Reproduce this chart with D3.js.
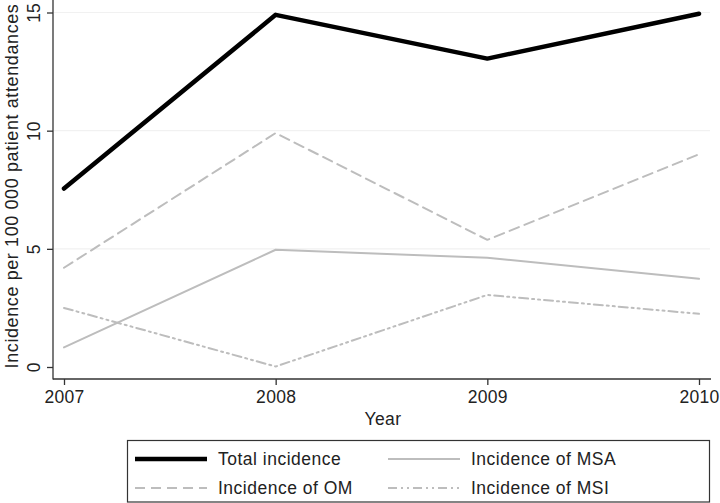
<!DOCTYPE html>
<html><head><meta charset="utf-8">
<script src="https://cdn.jsdelivr.net/npm/d3@7"></script>
<style>body{margin:0;background:#fff}svg{display:block}text{font-family:"Liberation Sans",Arial,sans-serif;fill:#222}</style>
</head><body><svg id="c" width="720" height="503"></svg>
<script>
const years = [2007, 2008, 2009, 2010];
const total = [7.55, 14.9, 13.05, 14.95];
const om = [4.2, 9.9, 5.38, 9.0];
const msa = [0.83, 4.96, 4.62, 3.73];
const msi = [2.5, 0.02, 3.05, 2.25];
const yTicks = [0, 5, 10, 15];
const seriesNames = ["Total incidence", "Incidence of MSA", "Incidence of OM", "Incidence of MSI"];

const svg = d3.select("#c");
const x = d3.scalePoint().domain(years).range([64, 699]);
const y = d3.scaleLinear().domain([0, 15]).range([367, 12.5]);
const FS = 17.5;

// gridlines
svg.append("g").selectAll("line").data(yTicks.filter(d=>d>0)).join("line")
  .attr("x1", 54).attr("x2", 710).attr("y1", d=>y(d)).attr("y2", d=>y(d))
  .attr("stroke", "#f1f1f1").attr("stroke-width", 1.2);

// axes
const ax = svg.append("g").attr("transform","translate(0,379)")
  .call(d3.axisBottom(x).tickSize(6).tickPadding(6).tickFormat(d3.format("d")));
ax.select(".domain").attr("d","M53,0H711").attr("stroke","#333").attr("stroke-width",1.3);
ax.selectAll(".tick line").attr("stroke","#333").attr("stroke-width",1.3);
ax.selectAll(".tick text").attr("font-size",FS).attr("fill","#222").attr("letter-spacing",0.3);

const ay = svg.append("g").attr("transform","translate(53,0)")
  .call(d3.axisLeft(y).tickValues(yTicks).tickSize(6).tickPadding(4));
ay.select(".domain").attr("d","M0,0V379.5").attr("stroke","#333").attr("stroke-width",1.3);
ay.selectAll(".tick line").attr("stroke","#333").attr("stroke-width",1.3);
ay.selectAll(".tick text").attr("font-size",FS).attr("fill","#222")
  .attr("x",0).attr("y",0).attr("dy","0")
  .attr("text-anchor","middle")
  .attr("transform","translate(-13,0) rotate(-90)");

svg.append("text").attr("transform","translate(18,186) rotate(-90)").attr("text-anchor","middle")
  .attr("font-size",18).attr("letter-spacing",0.6).text("Incidence per 100 000 patient attendances");
svg.append("text").attr("x",383).attr("y",425).attr("text-anchor","middle").attr("font-size",FS).attr("letter-spacing",0.4).text("Year");

const styles = [
  {data: total, color:"#000", w:4.5, dash:null},
  {data: msa, color:"#bdbdbd", w:2, dash:null},
  {data: om, color:"#bdbdbd", w:2, dash:"10,6"},
  {data: msi, color:"#bdbdbd", w:2, dash:"9,4,2,4,2,4"}
];
const line = d3.line().x((d,i)=>x(years[i])).y(d=>y(d));
[styles[1], styles[3], styles[2], styles[0]].forEach(s=>{
  svg.append("path").attr("d", line(s.data)).attr("fill","none").attr("stroke",s.color)
    .attr("stroke-width",s.w).attr("stroke-dasharray",s.dash).attr("stroke-linejoin","round").attr("stroke-linecap","round");
});

// legend
svg.append("rect").attr("x",127.5).attr("y",440.5).attr("width",582).attr("height",61.5)
  .attr("fill","#fff").attr("stroke","#333").attr("stroke-width",1.2);
const pos = [[135,459],[388,459],[135,488],[388,488]];
styles.forEach((s,i)=>{
  const [lx,ly] = pos[i];
  svg.append("line").attr("x1",lx).attr("x2",lx+72).attr("y1",ly).attr("y2",ly)
    .attr("stroke",s.color).attr("stroke-width",s.w).attr("stroke-dasharray",s.dash);
  svg.append("text").attr("x",lx+83).attr("y",ly+6).attr("font-size",FS).attr("letter-spacing",0.5).text(seriesNames[i]);
});
</script></body></html>
